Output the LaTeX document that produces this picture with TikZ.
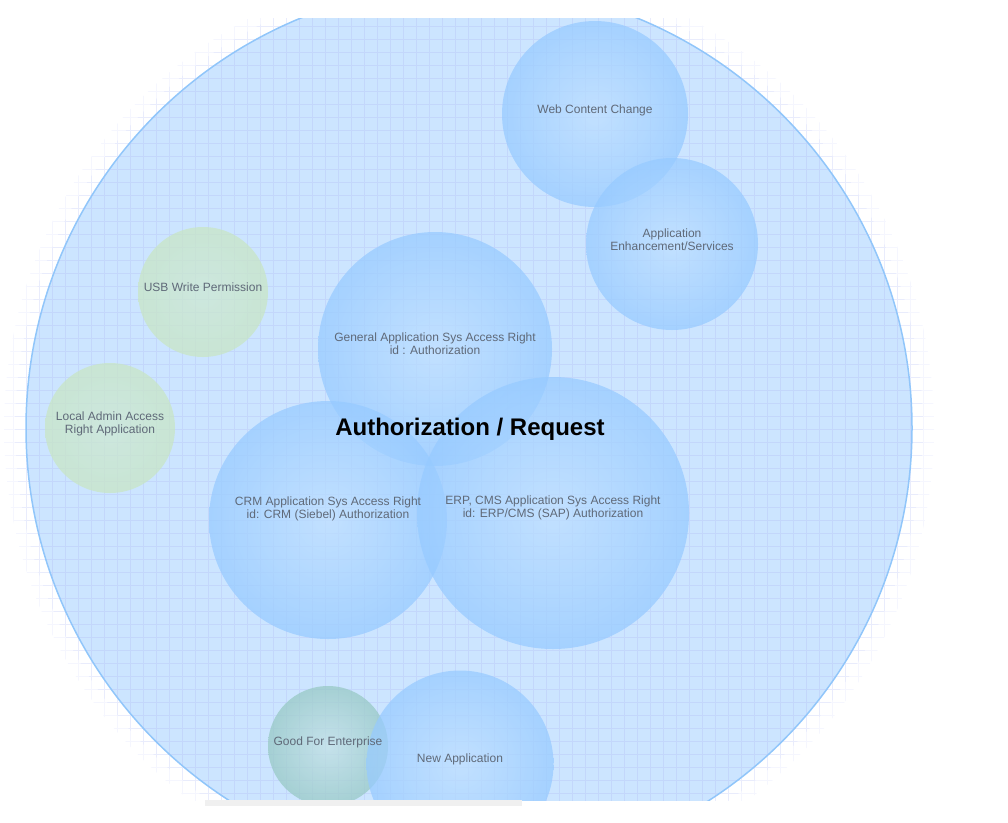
\documentclass[tikz,border=0pt]{standalone}
\usepackage{fontspec}
\setmainfont{Liberation Sans}
\usepackage{xcolor}
\usetikzlibrary{arrows, calc}
\definecolor{outerfill}{RGB}{204,229,255}
\definecolor{outerline}{RGB}{145,198,250}
\definecolor{bluebub}{RGB}{150,202,255}
\definecolor{bluebubin}{RGB}{190,223,255}
\definecolor{greenbub}{RGB}{200,230,195}
\definecolor{greenbubin}{RGB}{205,232,210}
\definecolor{tealbub}{RGB}{150,200,195}
\definecolor{tealbubin}{RGB}{195,225,228}
\definecolor{gridline}{RGB}{175,185,245}
\definecolor{labeltext}{RGB}{95,105,120}

\begin{document}
\begin{tikzpicture}[x=1pt, y=-1pt,
	bubble/.style = {circle, inner sep=0pt, shading=radial, fill opacity=0.72},
	bluebubble/.style = {bubble, inner color=bluebubin, outer color=bluebub},
	greenbubble/.style = {bubble, inner color=greenbubin, outer color=greenbub},
	tealbubble/.style = {bubble, inner color=tealbubin, outer color=tealbub},
	lbl/.style = {align=center, text=labeltext, inner sep=0pt, font=\fontsize{12}{13}\selectfont}]
	\useasboundingbox (0,0) rectangle (1008,822);
	\coordinate (c_all) at (469,428);
	\coordinate (c_web) at (595,114);
	\coordinate (c_enh) at (672,244);
	\coordinate (c_usb) at (203,292);
	\coordinate (c_adm) at (110,428);
	\coordinate (c_gen) at (435,349);
	\coordinate (c_crm) at (328,520);
	\coordinate (c_erp) at (553,513);
	\coordinate (c_gfe) at (328,746);
	\coordinate (c_new) at (460,764);
	\begin{scope}
		\clip (0,18) rectangle (1008,800);
		\begin{scope}
			\clip (c_all) circle (465pt);
			\draw[gridline, opacity=0.12, step=13pt] (0,0) grid (1008,822);
		\end{scope}
		\begin{scope}
			\clip (c_all) circle (454pt);
			\draw[gridline, opacity=0.18, step=13pt] (0,0) grid (1008,822);
		\end{scope}
		\node[circle, minimum size=886pt, fill=outerfill] (all) at (c_all) {};
		\begin{scope}
			\clip (c_all) circle (443pt);
			\draw[gridline, opacity=0.3, step=13pt] (0,0) grid (1008,822);
		\end{scope}
		\node[circle, minimum size=886pt, draw=outerline, line width=1.5pt] (all_rim) at (c_all) {};
		\node[bluebubble, minimum size=186pt] (web) at (c_web) {};
		\node[bluebubble, minimum size=172pt] (enh) at (c_enh) {};
		\node[greenbubble, minimum size=130pt] (usb) at (c_usb) {};
		\node[greenbubble, minimum size=130pt] (adm) at (c_adm) {};
		\node[bluebubble, minimum size=234pt] (gen) at (c_gen) {};
		\node[bluebubble, minimum size=238pt] (crm) at (c_crm) {};
		\node[bluebubble, minimum size=272pt] (erp) at (c_erp) {};
		\node[tealbubble, minimum size=120pt] (gfe) at (c_gfe) {};
		\node[bluebubble, minimum size=187pt] (new) at (c_new) {};
		\node[lbl] (web_t) at ([yshift=4pt]web) {Web Content Change};
		\node[lbl] (enh_t) at ([yshift=4.5pt]enh) {Application\\Enhancement/Services};
		\node[lbl] (usb_t) at ([yshift=5pt]usb) {USB Write Permission};
		\node[lbl] (adm_t) at ([yshift=4.5pt]adm) {Local Admin Access\\Right Application};
		\node[lbl] (gen_t) at ([yshift=5.5pt]gen) {General Application Sys Access Right\\id : Authorization};
		\node[lbl] (crm_t) at ([yshift=11.5pt]crm) {CRM Application Sys Access Right\\id: CRM (Siebel) Authorization};
		\node[lbl] (erp_t) at ([yshift=5.5pt]erp) {ERP, CMS Application Sys Access Right\\id: ERP/CMS (SAP) Authorization};
		\node[lbl] (gfe_t) at ([yshift=4pt]gfe) {Good For Enterprise};
		\node[lbl] (new_t) at ([yshift=5pt]new) {New Application};
		\node[font=\fontsize{24}{28}\selectfont\bfseries] (title) at (470,429) {Authorization / Request};
	\end{scope}
	\fill[black!6] (205,800) rectangle (522,806);
\end{tikzpicture}
\end{document}
